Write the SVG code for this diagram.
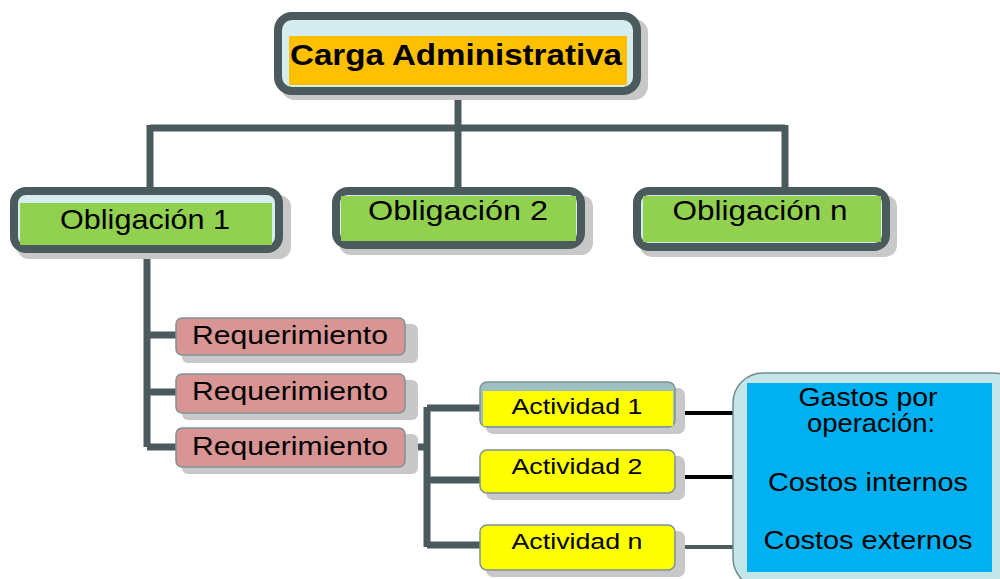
<svg xmlns="http://www.w3.org/2000/svg" width="1000" height="579" viewBox="0 0 1000 579">
<style>
.shadow{fill:#c8c8c8}
.frame{fill:#d6edf0;stroke:#4b5a5c;stroke-width:8}
.pink{fill:#d99594;stroke:#7c9396;stroke-width:1.5}
.yel{fill:#ffff00;stroke:#7c9396;stroke-width:1.5}
.band{fill:#9fbfc1;stroke:#7c9396;stroke-width:1.5}
.conn{fill:none;stroke:#4b5a5c;stroke-width:7}
.blk{fill:none;stroke:#000;stroke-width:4}
text{font-family:"Liberation Sans",Arial,sans-serif;fill:#000;text-anchor:middle}
.t1{font-size:29px;font-weight:bold}
.t2{font-size:28px}
.t3{font-size:25px}
.t4{font-size:22px}
</style>
<rect width="1000" height="579" fill="#fff"/>
<g id="connectors">
<path class="conn" d="M458,95 V128 M150,128 H785 M150,125 V188 M458,125 V188 M785,125 V188"/>
<path class="conn" d="M147,252 V447 M147,335 H176 M147,392 H176 M147,447 H176"/>
<path class="conn" d="M405,447 H427 M427,407 V547 M427,408 H481 M427,480 H481 M427,545 H481"/>
<path class="blk" d="M676,413 H734 M676,477 H734"/>
<rect x="673" y="472" width="6" height="8" fill="#000"/>
<path d="M676,547 H734" fill="none" stroke="#4b5a5c" stroke-width="4"/>
</g>
<g id="carga">
<rect class="shadow" x="281" y="19" width="367" height="81" rx="14"/>
<rect class="frame" x="278" y="16" width="359" height="75" rx="14"/>
<rect x="289" y="36" width="338" height="49" fill="#ffc000"/>
<text class="t1" x="456" y="65" textLength="332" lengthAdjust="spacingAndGlyphs">Carga Administrativa</text>
</g>
<g id="obl1">
<rect class="shadow" x="17" y="195" width="274" height="64" rx="12"/>
<rect class="frame" x="14" y="191" width="265" height="58" rx="12"/>
<rect x="20" y="203" width="252" height="42" fill="#92d050"/>
<text class="t2" x="145" y="229" textLength="170" lengthAdjust="spacingAndGlyphs">Obligación 1</text>
</g>
<g id="obl2">
<rect class="shadow" x="339" y="195" width="254" height="60" rx="12"/>
<rect class="frame" x="336" y="191" width="245" height="54" rx="12"/>
<rect x="341" y="196" width="235" height="45" fill="#92d050"/>
<text class="t2" x="458" y="220" textLength="180" lengthAdjust="spacingAndGlyphs">Obligación 2</text>
</g>
<g id="obln">
<rect class="shadow" x="640" y="195" width="257" height="62" rx="12"/>
<rect class="frame" x="637" y="191" width="249" height="56" rx="12"/>
<rect x="643" y="196" width="238" height="46" fill="#92d050"/>
<text class="t2" x="760" y="220" textLength="175" lengthAdjust="spacingAndGlyphs">Obligación n</text>
</g>
<g id="req1">
<rect class="shadow" x="182" y="324" width="236" height="39" rx="6"/>
<rect class="pink" x="176" y="318" width="229" height="37" rx="6"/>
<text class="t3" x="290" y="344" textLength="196" lengthAdjust="spacingAndGlyphs">Requerimiento</text>
</g>
<g id="req2">
<rect class="shadow" x="182" y="380" width="236" height="40" rx="6"/>
<rect class="pink" x="176" y="374" width="229" height="39" rx="6"/>
<text class="t3" x="290" y="400" textLength="196" lengthAdjust="spacingAndGlyphs">Requerimiento</text>
</g>
<g id="req3">
<rect class="shadow" x="182" y="434" width="236" height="40" rx="6"/>
<rect class="pink" x="176" y="428" width="229" height="39" rx="6"/>
<text class="t3" x="290" y="455" textLength="196" lengthAdjust="spacingAndGlyphs">Requerimiento</text>
</g>
<g id="act1">
<rect class="shadow" x="486" y="388" width="199" height="46" rx="7"/>
<rect class="band" x="480" y="382" width="195" height="45" rx="7"/>
<rect x="483" y="391" width="190" height="35" fill="#ffff00"/>
<text class="t4" x="577" y="414" textLength="131" lengthAdjust="spacingAndGlyphs">Actividad 1</text>
</g>
<g id="act2">
<rect class="shadow" x="486" y="456" width="199" height="44" rx="7"/>
<rect class="yel" x="480" y="450" width="195" height="43" rx="7"/>
<text class="t4" x="577" y="474" textLength="131" lengthAdjust="spacingAndGlyphs">Actividad 2</text>
</g>
<g id="actn">
<rect class="shadow" x="486" y="531" width="199" height="46" rx="7"/>
<rect class="yel" x="480" y="525" width="195" height="45" rx="7"/>
<text class="t4" x="577" y="549" textLength="131" lengthAdjust="spacingAndGlyphs">Actividad n</text>
</g>
<g id="gastos">
<rect class="shadow" x="738" y="379" width="290" height="220" rx="30"/>
<rect x="733" y="373" width="290" height="215" rx="30" fill="#c5e6e9" stroke="#6f8a8d" stroke-width="1.5"/>
<rect x="747" y="383" width="245" height="189" fill="#00b0f0"/>
<text class="t3" x="868" y="406" textLength="139" lengthAdjust="spacingAndGlyphs">Gastos por</text>
<text class="t3" x="871" y="432" textLength="128" lengthAdjust="spacingAndGlyphs">operación:</text>
<text class="t3" x="868" y="491" textLength="200" lengthAdjust="spacingAndGlyphs">Costos internos</text>
<text class="t3" x="868" y="549" textLength="209" lengthAdjust="spacingAndGlyphs">Costos externos</text>
</g>
</svg>
